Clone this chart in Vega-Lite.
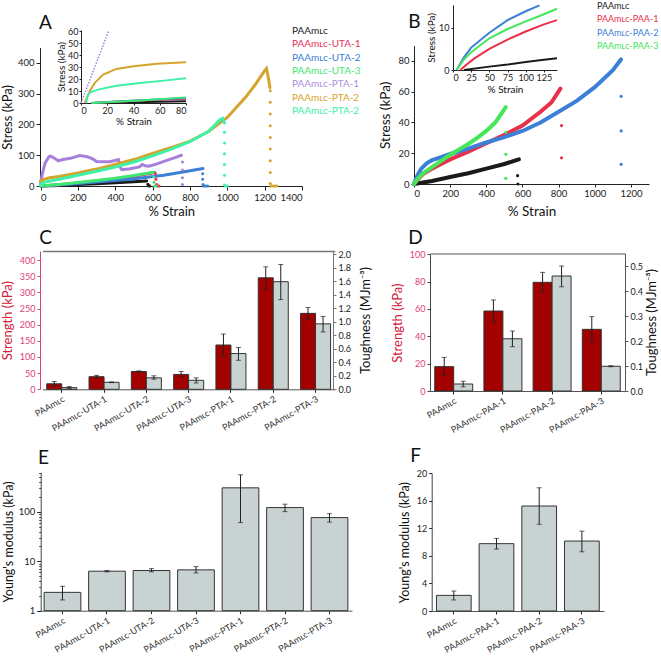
{
 "$schema": "https://vega.github.io/schema/vega-lite/v6.json",
 "width": 661, "height": 658, "autosize": {"type": "none"}, "padding": 0, "background": "white",
 "config": {
  "font": "Lato", "view": {"stroke": null},
  "axis": {"grid": false, "domainColor": "#222", "tickColor": "#222", "labelColor": "#222", "titleColor": "#111", "labelFontSize": 9, "titleFontSize": 13, "titleFontWeight": "normal", "labelFont": "Lato", "titleFont": "Lato"},
  "legend": {"labelFont": "Lato"}
 },
 "datasets": {
  "A": [
   {"s":"PAAm","x":0,"y":0},{"s":"PAAm","x":100,"y":2},{"s":"PAAm","x":200,"y":4.5},{"s":"PAAm","x":300,"y":7.5},{"s":"PAAm","x":400,"y":10.5},{"s":"PAAm","x":500,"y":14},{"s":"PAAm","x":568,"y":16.5},
   {"s":"UTA-1","x":0,"y":0},{"s":"UTA-1","x":100,"y":4},{"s":"UTA-1","x":200,"y":10},{"s":"UTA-1","x":300,"y":16},{"s":"UTA-1","x":400,"y":23},{"s":"UTA-1","x":500,"y":32},{"s":"UTA-1","x":612,"y":44},
   {"s":"UTA-2","x":0,"y":0},{"s":"UTA-2","x":150,"y":6},{"s":"UTA-2","x":300,"y":13},{"s":"UTA-2","x":480,"y":22},{"s":"UTA-2","x":660,"y":35},{"s":"UTA-2","x":770,"y":46},{"s":"UTA-2","x":870,"y":57},
   {"s":"UTA-3","x":0,"y":0},{"s":"UTA-3","x":100,"y":5},{"s":"UTA-3","x":200,"y":11},{"s":"UTA-3","x":300,"y":18},{"s":"UTA-3","x":400,"y":25},{"s":"UTA-3","x":500,"y":34},{"s":"UTA-3","x":605,"y":45},
   {"s":"PTA-1","x":0,"y":8},{"s":"PTA-1","x":10,"y":40},{"s":"PTA-1","x":25,"y":75},{"s":"PTA-1","x":45,"y":95},{"s":"PTA-1","x":55,"y":97},{"s":"PTA-1","x":75,"y":90},{"s":"PTA-1","x":95,"y":82},{"s":"PTA-1","x":120,"y":86},{"s":"PTA-1","x":160,"y":90},{"s":"PTA-1","x":210,"y":99},{"s":"PTA-1","x":250,"y":95},{"s":"PTA-1","x":280,"y":88},{"s":"PTA-1","x":300,"y":80},{"s":"PTA-1","x":340,"y":79},{"s":"PTA-1","x":370,"y":79},{"s":"PTA-1","x":400,"y":83},{"s":"PTA-1","x":417,"y":86},{"s":"PTA-1","x":428,"y":60},{"s":"PTA-1","x":435,"y":53},{"s":"PTA-1","x":480,"y":56},{"s":"PTA-1","x":530,"y":62},{"s":"PTA-1","x":545,"y":70},{"s":"PTA-1","x":560,"y":66},{"s":"PTA-1","x":580,"y":64},{"s":"PTA-1","x":620,"y":71},{"s":"PTA-1","x":680,"y":84},{"s":"PTA-1","x":720,"y":92},{"s":"PTA-1","x":755,"y":100},
   {"s":"PTA-2","x":0,"y":15},{"s":"PTA-2","x":20,"y":22},{"s":"PTA-2","x":50,"y":27},{"s":"PTA-2","x":100,"y":31},{"s":"PTA-2","x":200,"y":42},{"s":"PTA-2","x":300,"y":55},{"s":"PTA-2","x":400,"y":70},{"s":"PTA-2","x":500,"y":86},{"s":"PTA-2","x":600,"y":106},{"s":"PTA-2","x":700,"y":125},{"s":"PTA-2","x":800,"y":146},{"s":"PTA-2","x":900,"y":177},{"s":"PTA-2","x":1000,"y":223},{"s":"PTA-2","x":1100,"y":290},{"s":"PTA-2","x":1150,"y":330},{"s":"PTA-2","x":1200,"y":375},{"s":"PTA-2","x":1210,"y":382},{"s":"PTA-2","x":1222,"y":345},{"s":"PTA-2","x":1228,"y":320},
   {"s":"PTA-3","x":0,"y":5},{"s":"PTA-3","x":20,"y":12},{"s":"PTA-3","x":50,"y":16},{"s":"PTA-3","x":100,"y":22},{"s":"PTA-3","x":200,"y":35},{"s":"PTA-3","x":300,"y":48},{"s":"PTA-3","x":400,"y":62},{"s":"PTA-3","x":500,"y":78},{"s":"PTA-3","x":600,"y":98},{"s":"PTA-3","x":700,"y":120},{"s":"PTA-3","x":800,"y":144},{"s":"PTA-3","x":900,"y":178},{"s":"PTA-3","x":960,"y":215},{"s":"PTA-3","x":975,"y":220},{"s":"PTA-3","x":985,"y":205}
  ],
  "Adrop": [
   {"s":"PAAm","x":575,"y":6},{"s":"PAAm","x":578,"y":1},{"s":"PAAm","x":585,"y":0},
   {"s":"UTA-1","x":615,"y":40},{"s":"UTA-1","x":618,"y":22},{"s":"UTA-1","x":622,"y":5},{"s":"UTA-1","x":625,"y":0},{"s":"UTA-1","x":635,"y":0},
   {"s":"UTA-2","x":868,"y":40},{"s":"UTA-2","x":868,"y":22},{"s":"UTA-2","x":870,"y":5},{"s":"UTA-2","x":875,"y":0},{"s":"UTA-2","x":885,"y":0},{"s":"UTA-2","x":895,"y":0},
   {"s":"UTA-3","x":606,"y":30},{"s":"UTA-3","x":608,"y":12},{"s":"UTA-3","x":610,"y":0},{"s":"UTA-3","x":620,"y":0},
   {"s":"PTA-1","x":760,"y":78},{"s":"PTA-1","x":760,"y":52},{"s":"PTA-1","x":760,"y":27},{"s":"PTA-1","x":760,"y":5},
   {"s":"PTA-2","x":1230,"y":310},{"s":"PTA-2","x":1230,"y":272},{"s":"PTA-2","x":1230,"y":234},{"s":"PTA-2","x":1230,"y":196},{"s":"PTA-2","x":1230,"y":158},{"s":"PTA-2","x":1230,"y":120},{"s":"PTA-2","x":1230,"y":82},{"s":"PTA-2","x":1230,"y":44},{"s":"PTA-2","x":1230,"y":8},{"s":"PTA-2","x":1235,"y":0},{"s":"PTA-2","x":1245,"y":0},{"s":"PTA-2","x":1255,"y":0},{"s":"PTA-2","x":1265,"y":0},
   {"s":"PTA-3","x":985,"y":175},{"s":"PTA-3","x":985,"y":140},{"s":"PTA-3","x":985,"y":105},{"s":"PTA-3","x":985,"y":70},{"s":"PTA-3","x":985,"y":35},{"s":"PTA-3","x":985,"y":3},{"s":"PTA-3","x":990,"y":0},{"s":"PTA-3","x":1000,"y":0}
  ],
  "Ain": [
   {"s":"PAAm","x":10,"y":0},{"s":"PAAm","x":30,"y":0.5},{"s":"PAAm","x":50,"y":0.9},{"s":"PAAm","x":80,"y":1.4},
   {"s":"UTA-1","x":8,"y":0},{"s":"UTA-1","x":30,"y":1.3},{"s":"UTA-1","x":50,"y":2.3},{"s":"UTA-1","x":80,"y":3.6},
   {"s":"UTA-2","x":8,"y":0},{"s":"UTA-2","x":30,"y":1.5},{"s":"UTA-2","x":50,"y":2.6},{"s":"UTA-2","x":80,"y":4.2},
   {"s":"UTA-3","x":8,"y":0},{"s":"UTA-3","x":16,"y":0.4},{"s":"UTA-3","x":45,"y":2},{"s":"UTA-3","x":80,"y":4.7},
   {"s":"PTA-1","x":0,"y":0},{"s":"PTA-1","x":21,"y":60},
   {"s":"PTA-2","x":2.8,"y":0},{"s":"PTA-2","x":6.6,"y":9.8},{"s":"PTA-2","x":10.5,"y":16.8},{"s":"PTA-2","x":16.9,"y":23.7},{"s":"PTA-2","x":27,"y":28.5},{"s":"PTA-2","x":40,"y":30.7},{"s":"PTA-2","x":57.8,"y":32.7},{"s":"PTA-2","x":80,"y":34},
   {"s":"PTA-3","x":4,"y":0},{"s":"PTA-3","x":5,"y":6},{"s":"PTA-3","x":7,"y":9},{"s":"PTA-3","x":13,"y":11.2},{"s":"PTA-3","x":27,"y":14.5},{"s":"PTA-3","x":45,"y":16.8},{"s":"PTA-3","x":63,"y":18.7},{"s":"PTA-3","x":80,"y":20.7}
  ],
  "B": [
   {"s":"PAAm","x":0,"y":0},{"s":"PAAm","x":100,"y":2},{"s":"PAAm","x":200,"y":4.5},{"s":"PAAm","x":300,"y":7},{"s":"PAAm","x":400,"y":10},{"s":"PAAm","x":500,"y":13},{"s":"PAAm","x":580,"y":16},
   {"s":"PAA-1","x":0,"y":0},{"s":"PAA-1","x":25,"y":3.5},{"s":"PAA-1","x":50,"y":6.5},{"s":"PAA-1","x":100,"y":10},{"s":"PAA-1","x":150,"y":13},{"s":"PAA-1","x":200,"y":16},{"s":"PAA-1","x":300,"y":21},{"s":"PAA-1","x":400,"y":26.5},{"s":"PAA-1","x":500,"y":32},{"s":"PAA-1","x":600,"y":38},{"s":"PAA-1","x":700,"y":47},{"s":"PAA-1","x":760,"y":53},{"s":"PAA-1","x":810,"y":62},
   {"s":"PAA-2","x":0,"y":0},{"s":"PAA-2","x":20,"y":6},{"s":"PAA-2","x":40,"y":10},{"s":"PAA-2","x":70,"y":13.5},{"s":"PAA-2","x":100,"y":15.5},{"s":"PAA-2","x":150,"y":17.5},{"s":"PAA-2","x":200,"y":19.5},{"s":"PAA-2","x":300,"y":23},{"s":"PAA-2","x":400,"y":27},{"s":"PAA-2","x":500,"y":30.5},{"s":"PAA-2","x":600,"y":34.5},{"s":"PAA-2","x":700,"y":40},{"s":"PAA-2","x":800,"y":47},{"s":"PAA-2","x":900,"y":54},{"s":"PAA-2","x":1000,"y":63},{"s":"PAA-2","x":1100,"y":74},{"s":"PAA-2","x":1145,"y":81},
   {"s":"PAA-3","x":0,"y":0},{"s":"PAA-3","x":25,"y":4},{"s":"PAA-3","x":50,"y":7},{"s":"PAA-3","x":100,"y":11},{"s":"PAA-3","x":150,"y":15},{"s":"PAA-3","x":200,"y":19},{"s":"PAA-3","x":250,"y":22.5},{"s":"PAA-3","x":300,"y":26},{"s":"PAA-3","x":350,"y":30},{"s":"PAA-3","x":400,"y":34.5},{"s":"PAA-3","x":450,"y":40},{"s":"PAA-3","x":508,"y":50}
  ],
  "Bdrop": [
   {"s":"PAAm","x":573,"y":5.4},{"s":"PAAm","x":575,"y":0},
   {"s":"PAA-1","x":816,"y":38},{"s":"PAA-1","x":816,"y":17},
   {"s":"PAA-2","x":1146,"y":57},{"s":"PAA-2","x":1146,"y":34.5},{"s":"PAA-2","x":1146,"y":12.8},
   {"s":"PAA-3","x":508,"y":33.6},{"s":"PAA-3","x":508,"y":19.3},{"s":"PAA-3","x":508,"y":3.7}
  ],
  "Bin": [
   {"s":"PAAm","x":15,"y":0},{"s":"PAAm","x":50,"y":0.8},{"s":"PAAm","x":75,"y":1.3},{"s":"PAAm","x":100,"y":1.9},{"s":"PAAm","x":125,"y":2.4},{"s":"PAAm","x":143,"y":2.8},
   {"s":"PAA-1","x":10,"y":0},{"s":"PAA-1","x":20,"y":1.5},{"s":"PAA-1","x":30,"y":2.8},{"s":"PAA-1","x":50,"y":5},{"s":"PAA-1","x":75,"y":7.2},{"s":"PAA-1","x":100,"y":9.1},{"s":"PAA-1","x":125,"y":10.8},{"s":"PAA-1","x":143,"y":11.8},
   {"s":"PAA-2","x":5,"y":0},{"s":"PAA-2","x":15,"y":3},{"s":"PAA-2","x":25,"y":5.3},{"s":"PAA-2","x":50,"y":8.8},{"s":"PAA-2","x":75,"y":11.8},{"s":"PAA-2","x":100,"y":13.9},{"s":"PAA-2","x":119,"y":15.3},
   {"s":"PAA-3","x":5,"y":0},{"s":"PAA-3","x":15,"y":2.5},{"s":"PAA-3","x":25,"y":4.2},{"s":"PAA-3","x":50,"y":7.5},{"s":"PAA-3","x":75,"y":9.7},{"s":"PAA-3","x":100,"y":11.5},{"s":"PAA-3","x":125,"y":13.2},{"s":"PAA-3","x":143,"y":14.5}
  ],
  "C": [
   {"g":"PAAm","m":"S","v":17,"lo":10,"hi":24},{"g":"PAAm","m":"T","v":0.025,"lo":0.01,"hi":0.04},
   {"g":"UTA-1","m":"S","v":39,"lo":35,"hi":43},{"g":"UTA-1","m":"T","v":0.104,"lo":0.099,"hi":0.109},
   {"g":"UTA-2","m":"S","v":55,"lo":53,"hi":57},{"g":"UTA-2","m":"T","v":0.17,"lo":0.15,"hi":0.2},
   {"g":"UTA-3","m":"S","v":46,"lo":39,"hi":55},{"g":"UTA-3","m":"T","v":0.133,"lo":0.094,"hi":0.17},
   {"g":"PTA-1","m":"S","v":137,"lo":103,"hi":171},{"g":"PTA-1","m":"T","v":0.53,"lo":0.43,"hi":0.62},
   {"g":"PTA-2","m":"S","v":345,"lo":309,"hi":379},{"g":"PTA-2","m":"T","v":1.595,"lo":1.33,"hi":1.85},
   {"g":"PTA-3","m":"S","v":235,"lo":217,"hi":253},{"g":"PTA-3","m":"T","v":0.97,"lo":0.85,"hi":1.08}
  ],
  "D": [
   {"g":"PAAm","m":"S","v":17.8,"lo":11.5,"hi":24.6},{"g":"PAAm","m":"T","v":0.028,"lo":0.017,"hi":0.039},
   {"g":"PAA-1","m":"S","v":58.5,"lo":50.5,"hi":66.6},{"g":"PAA-1","m":"T","v":0.209,"lo":0.177,"hi":0.24},
   {"g":"PAA-2","m":"S","v":79.5,"lo":72.4,"hi":86.8},{"g":"PAA-2","m":"T","v":0.46,"lo":0.417,"hi":0.5},
   {"g":"PAA-3","m":"S","v":45.1,"lo":36.1,"hi":54.4},{"g":"PAA-3","m":"T","v":0.099,"lo":0.097,"hi":0.101}
  ],
  "E": [
   {"g":"PAAm","v":2.35,"lo":1.65,"hi":3.12},{"g":"UTA-1","v":6.3,"lo":6.1,"hi":6.5},{"g":"UTA-2","v":6.5,"lo":6.1,"hi":7.1},{"g":"UTA-3","v":6.7,"lo":5.8,"hi":7.8},
   {"g":"PTA-1","v":306,"lo":60.6,"hi":562},{"g":"PTA-2","v":122,"lo":101,"hi":143},{"g":"PTA-3","v":76.6,"lo":62,"hi":92}
  ],
  "F": [
   {"g":"PAAm","v":2.27,"lo":1.6,"hi":2.9},{"g":"PAA-1","v":9.78,"lo":9.0,"hi":10.55},{"g":"PAA-2","v":15.25,"lo":12.6,"hi":17.9},{"g":"PAA-3","v":10.16,"lo":8.6,"hi":11.6}
  ]
 },
 "layer": [
  {
   "layer": [
    {"data": {"name": "A"}, "mark": {"type": "line", "strokeWidth": 3, "strokeCap": "round"},
     "encoding": {
      "x": {"field": "x", "type": "quantitative", "scale": {"domain": [0, 1400], "range": [40.5, 302], "nice": false, "zero": false},
            "axis": {"orient": "bottom", "offset": -472, "values": [0,200,400,600,800,1000,1200,1400], "format": "d", "title": "% Strain", "tickSize": 4, "labelPadding": 2, "titlePadding": 4, "labelFontSize": 9.5}},
      "y": {"field": "y", "type": "quantitative", "scale": {"domain": [0, 450], "range": [186, 47.6], "nice": false, "zero": false},
            "axis": {"orient": "left", "offset": -40, "values": [0,100,200,300,400], "format": "d", "title": "Stress (kPa)", "tickSize": 4, "titlePadding": 3, "labelFontSize": 9.5}},
      "color": {"field": "s", "type": "nominal", "sort": null,
                "scale": {"domain": ["PAAm","UTA-1","UTA-2","UTA-3","PTA-1","PTA-2","PTA-3"], "range": ["#1a1a1a","#e8305a","#3b7fd6","#3ee870","#a77fdc","#d4a52a","#3ef0a8"]},
                "legend": {"orient": "none", "legendX": 282, "legendY": 26, "title": null, "symbolSize": 0, "symbolOpacity": 0, "symbolStrokeWidth": 0, "labelOffset": 0, "labelFontSize": 10, "rowPadding": 3.3, "padding": 0,
                           "labelExpr": "datum.label == 'PAAm' ? 'PAAmʟᴄ' : datum.label == 'PTA-3' ? 'PAAmʟᴄ-PTA-2' : 'PAAmʟᴄ-' + datum.label",
                           "labelColor": {"expr": "datum.value == 'PAAm' ? '#1a1a1a' : datum.value == 'UTA-1' ? '#e8305a' : datum.value == 'UTA-2' ? '#3b7fd6' : datum.value == 'UTA-3' ? '#3ee870' : datum.value == 'PTA-1' ? '#b08ee0' : datum.value == 'PTA-2' ? '#d4a52a' : '#3ef0a8'"}}}
     }},
    {"data": {"name": "Adrop"}, "mark": {"type": "point", "filled": true, "size": 9, "opacity": 1},
     "encoding": {
      "x": {"field": "x", "type": "quantitative", "axis": {"orient": "top", "offset": 0, "domain": false, "ticks": false, "labels": false, "title": "A", "titleX": 45, "titleY": 22, "titleAngle": 0, "titleAlign": "center", "titleBaseline": "middle", "titleFontSize": 19}},
      "y": {"field": "y", "type": "quantitative", "axis": null},
      "color": {"field": "s", "type": "nominal", "legend": null}
     }}
   ],
   "resolve": {"axis": {"x": "independent", "y": "independent"}}
  },
  {
   "data": {"name": "Ain"},
   "encoding": {
    "x": {"field": "x", "type": "quantitative", "scale": {"domain": [0, 80], "range": [81, 186], "nice": false, "zero": false},
          "axis": {"orient": "bottom", "offset": -555, "values": [0,20,40,60,80], "title": "% Strain", "tickSize": 2, "labelPadding": 1, "titlePadding": 1, "labelFontSize": 9, "titleFontSize": 10}},
    "y": {"field": "y", "type": "quantitative", "scale": {"domain": [0, 61], "range": [103, 30], "nice": false, "zero": false},
          "axis": {"orient": "left", "offset": -81, "values": [0,10,20,30,40,50,60], "title": "Stress (kPa)", "tickSize": 2, "labelPadding": 1, "titlePadding": 1, "labelFontSize": 9, "titleFontSize": 10}},
    "color": {"field": "s", "type": "nominal", "sort": null,
              "scale": {"domain": ["PAAm","UTA-1","UTA-2","UTA-3","PTA-1","PTA-2","PTA-3"], "range": ["#1a1a1a","#e8305a","#3b7fd6","#3ee870","#a77fdc","#d4a52a","#3ef0a8"]}, "legend": null}
   },
   "layer": [
    {"transform": [{"filter": "datum.s != 'PTA-1'"}], "mark": {"type": "line", "strokeWidth": 2}},
    {"transform": [{"filter": "datum.s == 'PTA-1'"}], "mark": {"type": "line", "strokeWidth": 1.5, "strokeDash": [1.5, 1.5]}}
   ]
  },
  {
   "layer": [
    {"data": {"name": "B"}, "mark": {"type": "line", "strokeWidth": 4, "strokeCap": "round"},
     "encoding": {
      "x": {"field": "x", "type": "quantitative", "scale": {"domain": [0, 1300], "range": [414, 649], "nice": false, "zero": false},
            "axis": {"orient": "bottom", "offset": -474, "values": [0,200,400,600,800,1000,1200], "format": "d", "title": "% Strain", "tickSize": 3, "labelPadding": 1, "titlePadding": 7, "labelFontSize": 9.5, "titleFontSize": 13.5}},
      "y": {"field": "y", "type": "quantitative", "scale": {"domain": [0, 90], "range": [184, 45.6], "nice": false, "zero": false},
            "axis": {"orient": "left", "offset": -414, "values": [0,20,40,60,80], "title": "Stress (kPa)", "tickSize": 3, "titlePadding": 5, "labelFontSize": 9.5, "titleFontSize": 13.5}},
      "color": {"field": "s", "type": "nominal", "sort": null,
                "scale": {"domain": ["PAAm","PAA-1","PAA-2","PAA-3"], "range": ["#1a1a1a","#e8304a","#3b7fd6","#44e65a"]},
                "legend": {"orient": "none", "legendX": 588, "legendY": 1, "title": null, "symbolSize": 0, "symbolOpacity": 0, "symbolStrokeWidth": 0, "labelOffset": 0, "labelFontSize": 9, "rowPadding": 3.5, "padding": 0, "labelLimit": 200,
                           "labelExpr": "datum.label == 'PAAm' ? 'PAAmʟᴄ' : 'PAAmʟᴄ-' + datum.label",
                           "labelColor": {"expr": "datum.value == 'PAAm' ? '#1a1a1a' : datum.value == 'PAA-1' ? '#e8304a' : datum.value == 'PAA-2' ? '#3b7fd6' : '#44e65a'"}}}
     }},
    {"data": {"name": "Bdrop"}, "mark": {"type": "point", "filled": true, "size": 10, "opacity": 1},
     "encoding": {
      "x": {"field": "x", "type": "quantitative", "axis": {"orient": "top", "offset": 0, "domain": false, "ticks": false, "labels": false, "title": "B", "titleX": 414, "titleY": 21, "titleAngle": 0, "titleAlign": "center", "titleBaseline": "middle", "titleFontSize": 19}},
      "y": {"field": "y", "type": "quantitative", "axis": null},
      "color": {"field": "s", "type": "nominal", "legend": null}
     }}
   ],
   "resolve": {"axis": {"x": "independent", "y": "independent"}}
  },
  {
   "data": {"name": "Bin"}, "mark": {"type": "line", "strokeWidth": 2},
   "encoding": {
    "x": {"field": "x", "type": "quantitative", "scale": {"domain": [0, 143], "range": [453, 557], "nice": false, "zero": false},
          "axis": {"orient": "bottom", "offset": -588, "values": [0,25,50,75,100,125], "title": "% Strain", "tickSize": 2, "labelPadding": 1, "titlePadding": 2, "labelFontSize": 9, "titleFontSize": 10}},
    "y": {"field": "y", "type": "quantitative", "scale": {"domain": [0, 15.4], "range": [70, 4.9], "nice": false, "zero": false},
          "axis": {"orient": "left", "offset": -453, "values": [0,10], "title": "Stress (kPa)", "tickSize": 2, "labelPadding": 2, "titlePadding": 2, "labelFontSize": 9, "titleFontSize": 10}},
    "color": {"field": "s", "type": "nominal", "sort": null,
              "scale": {"domain": ["PAAm","PAA-1","PAA-2","PAA-3"], "range": ["#1a1a1a","#e8304a","#3b7fd6","#44e65a"]}, "legend": null}
   }
  },
  {
   "data": {"name": "C"},
   "layer": [
    {"transform": [{"filter": "datum.m == 'S'"}],
     "encoding": {
      "x": {"field": "g", "type": "nominal", "sort": null, "scale": {"domain": ["PAAm","UTA-1","UTA-2","UTA-3","PTA-1","PTA-2","PTA-3"], "range": [42.5, 334.8], "paddingInner": 0.29, "paddingOuter": 0.1},
            "axis": {"orient": "bottom", "offset": -268.7, "title": null, "labelAngle": -30, "labelFontSize": 9, "tickSize": 3, "domainColor": "#555", "labelColor": "#333",
                     "labelExpr": "datum.value == 'PAAm' ? 'PAAmʟᴄ' : 'PAAmʟᴄ-' + datum.value"}},
      "xOffset": {"field": "m", "type": "nominal", "scale": {"domain": ["S","T"], "paddingInner": 0, "paddingOuter": 0}}
     },
     "layer": [
      {"mark": {"type": "bar", "fill": "#a30000", "stroke": "#333", "strokeWidth": 1},
       "encoding": {"y": {"field": "v", "type": "quantitative", "scale": {"domain": [0, 428], "range": [389.3, 251], "nice": false, "zero": false},
                          "axis": {"orient": "left", "offset": -40, "values": [0,50,100,150,200,250,300,350,400], "title": "Strength (kPa)", "tickSize": 3, "titlePadding": 5,
                                   "domainColor": "#e0407a", "tickColor": "#e0407a", "labelColor": "#e0407a", "titleColor": "#d0203a"}}}},
      {"mark": {"type": "rule", "color": "#222", "strokeWidth": 1},
       "encoding": {"y": {"field": "lo", "type": "quantitative", "axis": null}, "y2": {"field": "hi"}}},
      {"mark": {"type": "tick", "color": "#222", "size": 5, "thickness": 1},
       "encoding": {"y": {"field": "lo", "type": "quantitative", "axis": null}}},
      {"mark": {"type": "tick", "color": "#222", "size": 5, "thickness": 1},
       "encoding": {"y": {"field": "hi", "type": "quantitative", "axis": null}}}
     ],
     "resolve": {"axis": {"y": "independent"}}},
    {"transform": [{"filter": "datum.m == 'T'"}],
     "encoding": {
      "x": {"field": "g", "type": "nominal", "sort": null, "scale": {"domain": ["PAAm","UTA-1","UTA-2","UTA-3","PTA-1","PTA-2","PTA-3"], "range": [42.5, 334.8], "paddingInner": 0.29, "paddingOuter": 0.1},
            "axis": {"orient": "top", "offset": -251, "domain": true, "domainColor": "#777", "domainWidth": 1.5, "ticks": false, "labels": false, "title": "C", "titleX": 45, "titleY": -14, "titleAngle": 0, "titleAlign": "center", "titleBaseline": "middle", "titleFontSize": 19}},
      "xOffset": {"field": "m", "type": "nominal", "scale": {"domain": ["S","T"], "paddingInner": 0, "paddingOuter": 0}}
     },
     "layer": [
      {"mark": {"type": "bar", "fill": "#c9d2d2", "stroke": "#333", "strokeWidth": 1},
       "encoding": {"y": {"field": "v", "type": "quantitative", "scale": {"domain": [0, 2.05], "range": [389.3, 251], "nice": false, "zero": false},
                          "axis": {"orient": "right", "offset": -328, "values": [0,0.2,0.4,0.6,0.8,1.0,1.2,1.4,1.6,1.8,2.0], "format": ".1f", "title": "Toughness (MJm⁻³)", "titleAngle": 270, "titleX": 32, "titleY": 320, "titleAlign": "center", "titleBaseline": "middle", "tickSize": 3, "domainColor": "#777", "tickColor": "#777"}}}},
      {"mark": {"type": "rule", "color": "#222", "strokeWidth": 1},
       "encoding": {"y": {"field": "lo", "type": "quantitative", "axis": null}, "y2": {"field": "hi"}}},
      {"mark": {"type": "tick", "color": "#222", "size": 5, "thickness": 1},
       "encoding": {"y": {"field": "lo", "type": "quantitative", "axis": null}}},
      {"mark": {"type": "tick", "color": "#222", "size": 5, "thickness": 1},
       "encoding": {"y": {"field": "hi", "type": "quantitative", "axis": null}}}
     ],
     "resolve": {"axis": {"y": "independent"}}}
   ],
   "resolve": {"scale": {"y": "independent"}, "axis": {"x": "independent", "y": "independent"}}
  },
  {
   "data": {"name": "D"},
   "layer": [
    {"transform": [{"filter": "datum.m == 'S'"}],
     "encoding": {
      "x": {"field": "g", "type": "nominal", "sort": null, "scale": {"domain": ["PAAm","PAA-1","PAA-2","PAA-3"], "range": [430, 625], "paddingInner": 0.228, "paddingOuter": 0.096},
            "axis": {"orient": "bottom", "offset": -267, "title": null, "labelAngle": -30, "labelFontSize": 9, "tickSize": 3, "domainColor": "#555", "labelColor": "#333",
                     "labelExpr": "datum.value == 'PAAm' ? 'PAAmʟᴄ' : 'PAAmʟᴄ-' + datum.value"}},
      "xOffset": {"field": "m", "type": "nominal", "scale": {"domain": ["S","T"], "paddingInner": 0, "paddingOuter": 0}}
     },
     "layer": [
      {"mark": {"type": "bar", "fill": "#a30000", "stroke": "#333", "strokeWidth": 1},
       "encoding": {"y": {"field": "v", "type": "quantitative", "scale": {"domain": [0, 100], "range": [391, 254.3], "nice": false, "zero": false},
                          "axis": {"orient": "left", "offset": -430, "values": [0,20,40,60,80,100], "title": "Strength (kPa)", "tickSize": 3, "titlePadding": 5,
                                   "domainColor": "#444", "tickColor": "#444", "labelColor": "#e0407a", "titleColor": "#d0203a"}}}},
      {"mark": {"type": "rule", "color": "#222", "strokeWidth": 1},
       "encoding": {"y": {"field": "lo", "type": "quantitative", "axis": null}, "y2": {"field": "hi"}}},
      {"mark": {"type": "tick", "color": "#222", "size": 5, "thickness": 1},
       "encoding": {"y": {"field": "lo", "type": "quantitative", "axis": null}}},
      {"mark": {"type": "tick", "color": "#222", "size": 5, "thickness": 1},
       "encoding": {"y": {"field": "hi", "type": "quantitative", "axis": null}}}
     ],
     "resolve": {"axis": {"y": "independent"}}},
    {"transform": [{"filter": "datum.m == 'T'"}],
     "encoding": {
      "x": {"field": "g", "type": "nominal", "sort": null, "scale": {"domain": ["PAAm","PAA-1","PAA-2","PAA-3"], "range": [430, 625], "paddingInner": 0.228, "paddingOuter": 0.096},
            "axis": {"orient": "top", "offset": -253.5, "domain": true, "domainColor": "#555", "domainWidth": 1.2, "ticks": false, "labels": false, "title": "D", "titleX": 415, "titleY": -16.5, "titleAngle": 0, "titleAlign": "center", "titleBaseline": "middle", "titleFontSize": 19}},
      "xOffset": {"field": "m", "type": "nominal", "scale": {"domain": ["S","T"], "paddingInner": 0, "paddingOuter": 0}}
     },
     "layer": [
      {"mark": {"type": "bar", "fill": "#c9d2d2", "stroke": "#333", "strokeWidth": 1},
       "encoding": {"y": {"field": "v", "type": "quantitative", "scale": {"domain": [0, 0.55], "range": [391, 253.5], "nice": false, "zero": false},
                          "axis": {"orient": "right", "offset": -36, "values": [0,0.1,0.2,0.3,0.4,0.5], "format": ".1f", "title": "Toughness (MJm⁻³)", "titleAngle": 270, "titleX": 26, "titleY": 322, "titleAlign": "center", "titleBaseline": "middle", "tickSize": 3, "domainColor": "#555", "tickColor": "#555"}}}},
      {"mark": {"type": "rule", "color": "#222", "strokeWidth": 1},
       "encoding": {"y": {"field": "lo", "type": "quantitative", "axis": null}, "y2": {"field": "hi"}}},
      {"mark": {"type": "tick", "color": "#222", "size": 5, "thickness": 1},
       "encoding": {"y": {"field": "lo", "type": "quantitative", "axis": null}}},
      {"mark": {"type": "tick", "color": "#222", "size": 5, "thickness": 1},
       "encoding": {"y": {"field": "hi", "type": "quantitative", "axis": null}}}
     ],
     "resolve": {"axis": {"y": "independent"}}}
   ],
   "resolve": {"scale": {"y": "independent"}, "axis": {"x": "independent", "y": "independent"}}
  },
  {
   "data": {"name": "E"},
   "layer": [
    {"mark": {"type": "bar", "fill": "#c9d2d2", "stroke": "#333", "strokeWidth": 1},
     "encoding": {
      "x": {"field": "g", "type": "nominal", "sort": null, "scale": {"domain": ["PAAm","UTA-1","UTA-2","UTA-3","PTA-1","PTA-2","PTA-3"], "range": [40, 352], "paddingInner": 0.175, "paddingOuter": 0.093},
            "axis": {"orient": "bottom", "offset": -47.3, "title": null, "labelAngle": -30, "labelFontSize": 9, "tickSize": 3, "domainColor": "#555", "labelColor": "#333",
                     "labelExpr": "datum.value == 'PAAm' ? 'PAAmʟᴄ' : 'PAAmʟᴄ-' + datum.value"}},
      "y": {"field": "v", "type": "quantitative", "scale": {"type": "log", "domain": [1, 631], "range": [610.7, 472.3], "nice": false},
            "axis": {"orient": "left", "offset": -40.7, "values": [1,10,100], "format": "d", "title": "Young's modulus (kPa)", "tickSize": 4, "titlePadding": 3, "labelFontSize": 9.5, "titleFontSize": 12.5, "domainColor": "#444"}},
      "y2": {"datum": 1}
     }},
    {"mark": {"type": "rule", "color": "#222", "strokeWidth": 1},
     "encoding": {
      "x": {"field": "g", "type": "nominal", "sort": null,
            "axis": {"orient": "top", "offset": -440, "domain": false, "ticks": false, "labels": false, "title": "E", "titleX": 43, "titleY": 17, "titleAngle": 0, "titleAlign": "center", "titleBaseline": "middle", "titleFontSize": 19}},
      "y": {"field": "lo", "type": "quantitative",
            "axis": {"orient": "left", "offset": -40.7, "values": [2,3,4,5,6,7,8,9,20,30,40,50,60,70,80,90,200,300,400,500,600], "labels": false, "domain": false, "tickSize": 2, "title": null, "tickColor": "#444"}},
      "y2": {"field": "hi"}
     }},
    {"mark": {"type": "tick", "color": "#222", "size": 5, "thickness": 1},
     "encoding": {"x": {"field": "g", "type": "nominal", "sort": null, "axis": null}, "y": {"field": "lo", "type": "quantitative", "axis": null}}},
    {"mark": {"type": "tick", "color": "#222", "size": 5, "thickness": 1},
     "encoding": {"x": {"field": "g", "type": "nominal", "sort": null, "axis": null}, "y": {"field": "hi", "type": "quantitative", "axis": null}}}
   ],
   "resolve": {"axis": {"x": "independent", "y": "independent"}}
  },
  {
   "data": {"name": "F"},
   "layer": [
    {"mark": {"type": "bar", "fill": "#c9d2d2", "stroke": "#333", "strokeWidth": 1},
     "encoding": {
      "x": {"field": "g", "type": "nominal", "sort": null, "scale": {"domain": ["PAAm","PAA-1","PAA-2","PAA-3"], "range": [431.7, 604], "paddingInner": 0.187, "paddingOuter": 0.111},
            "axis": {"orient": "bottom", "offset": -47, "title": null, "labelAngle": -30, "labelFontSize": 9, "tickSize": 3, "domainColor": "#555", "labelColor": "#333",
                     "labelExpr": "datum.value == 'PAAm' ? 'PAAmʟᴄ' : 'PAAmʟᴄ-' + datum.value"}},
      "y": {"field": "v", "type": "quantitative", "scale": {"domain": [0, 20], "range": [611, 473.3], "nice": false, "zero": false},
            "axis": {"orient": "left", "offset": -431.7, "values": [0,4,8,12,16,20], "title": "Young's modulus (kPa)", "tickSize": 3, "titlePadding": 5, "labelFontSize": 9, "titleFontSize": 12.5, "domainColor": "#444"}}
     }},
    {"mark": {"type": "rule", "color": "#222", "strokeWidth": 1},
     "encoding": {
      "x": {"field": "g", "type": "nominal", "sort": null,
            "axis": {"orient": "top", "offset": -440, "domain": false, "ticks": false, "labels": false, "title": "F", "titleX": 415, "titleY": 15, "titleAngle": 0, "titleAlign": "center", "titleBaseline": "middle", "titleFontSize": 19}},
      "y": {"field": "lo", "type": "quantitative", "axis": null},
      "y2": {"field": "hi"}
     }},
    {"mark": {"type": "tick", "color": "#222", "size": 5, "thickness": 1},
     "encoding": {"x": {"field": "g", "type": "nominal", "sort": null, "axis": null}, "y": {"field": "lo", "type": "quantitative", "axis": null}}},
    {"mark": {"type": "tick", "color": "#222", "size": 5, "thickness": 1},
     "encoding": {"x": {"field": "g", "type": "nominal", "sort": null, "axis": null}, "y": {"field": "hi", "type": "quantitative", "axis": null}}}
   ],
   "resolve": {"axis": {"x": "independent", "y": "independent"}}
  }
 ],
 "resolve": {
  "scale": {"x": "independent", "y": "independent", "color": "independent", "xOffset": "independent"},
  "axis": {"x": "independent", "y": "independent"},
  "legend": {"color": "independent"}
 }
}
